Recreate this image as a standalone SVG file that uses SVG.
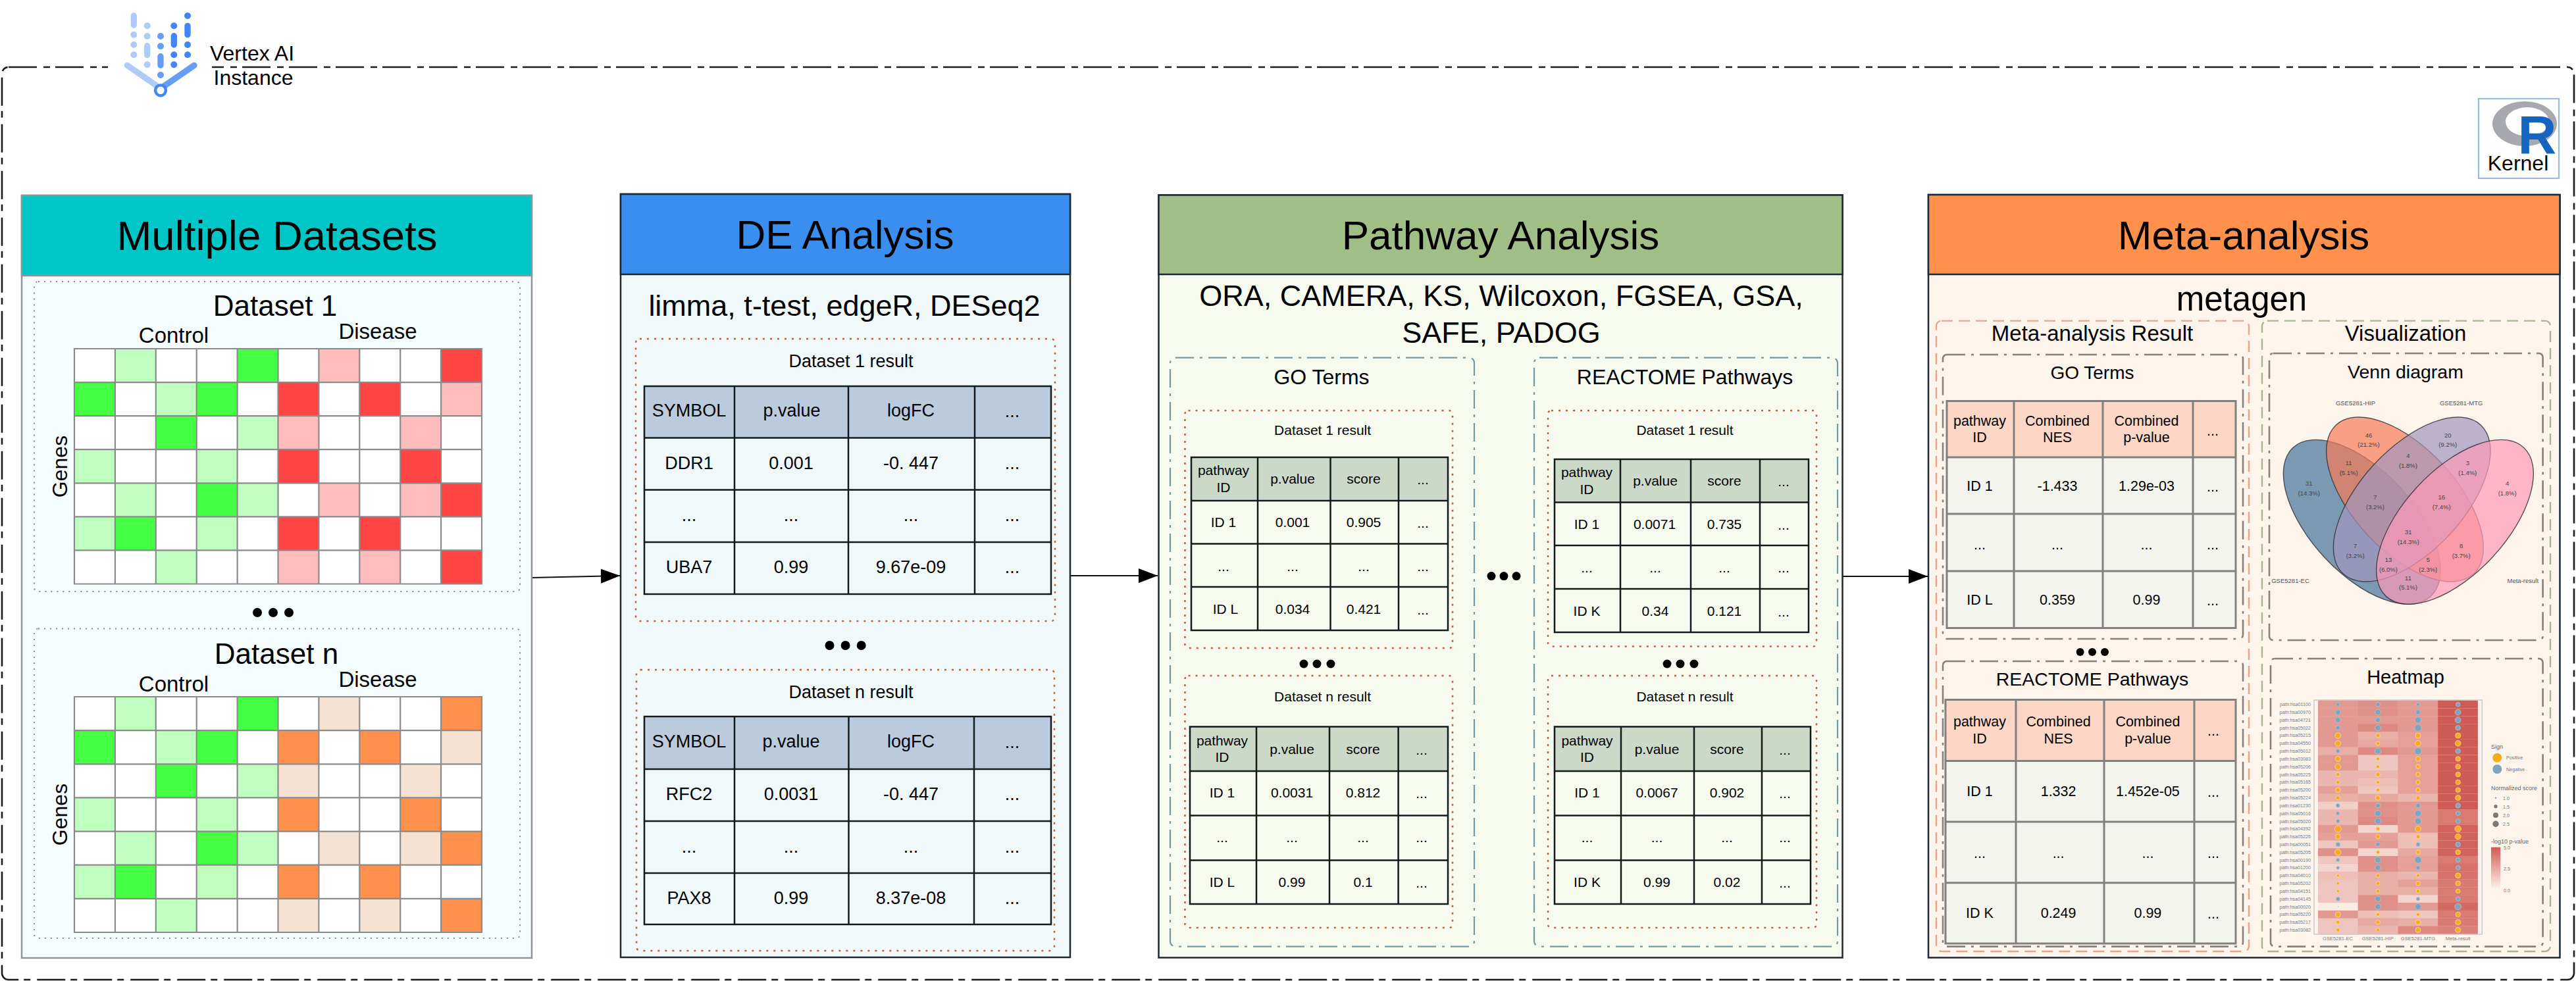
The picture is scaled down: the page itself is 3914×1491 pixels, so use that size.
<svg xmlns="http://www.w3.org/2000/svg" width="3914" height="1491" viewBox="0 0 3914 1491">
<style>
text{font-family:"Liberation Sans",Arial,Helvetica,sans-serif;text-anchor:middle;fill:#000}
.h{font-size:62px}.s45{font-size:45px}.s44{font-size:44px}.s33{font-size:33px}.s32{font-size:32px}.s27{font-size:27px}.s21{font-size:21px}.s215{font-size:21.5px}.s285{font-size:28.5px}
.bd1{stroke:#8d9698;stroke-width:2.5}.bd2{stroke:#1d2a33;stroke-width:2.5}
.dotg{fill:none;stroke:#8a8a8a;stroke-width:2;stroke-dasharray:2 7}
.doto{fill:none;stroke:#c4623a;stroke-width:2.5;stroke-dasharray:3 8}
.ddt{fill:none;stroke:#7199a8;stroke-width:2.2;stroke-dasharray:28 9 4 9}
.ddg{fill:none;stroke:#85807c;stroke-width:2.6;stroke-dasharray:28 9 4 9}
.dsa{fill:none;stroke:#e3a88c;stroke-width:2.4;stroke-dasharray:17 9}
.dgr{fill:none;stroke:#a8b78f;stroke-width:2.4;stroke-dasharray:17 9}
.gl{fill:none;stroke:#8b8b8b;stroke-width:2.2;vector-effect:non-scaling-stroke}
.tl{fill:none;stroke:#14191c;stroke-width:2.5}
.tg{fill:none;stroke:#808080;stroke-width:3}
.conn{fill:none;stroke:#111;stroke-width:2.2;marker-end:url(#ah)}
.n{fill:#7fa4c0;stroke:#c3c3c8;stroke-width:.8}.p{fill:#fba91e;stroke:#f9dfb0;stroke-width:.8}
.hc{fill:#cf5b55;width:60.8px;height:11.9px}
.vl{font-size:9.5px;fill:#555}.vn{font-size:9.5px;fill:#444}
.hl{font-size:7.2px;text-anchor:end;fill:#7b7b7b}.ax{font-size:7.6px;fill:#7b7b7b}
.lg{font-size:9px;text-anchor:start;fill:#666}.ls{font-size:7.2px;text-anchor:start;fill:#777}
.lt{fill:#aecbfa}.md{fill:#669df6}.dk{fill:#4285f4}
</style>
<defs>
<marker id="ah" markerUnits="userSpaceOnUse" markerWidth="29" markerHeight="24" refX="29" refY="12" orient="auto"><path d="M0 1L29 12L0 23z" fill="#000"/></marker>
<linearGradient id="cb" x1="0" y1="0" x2="0" y2="1"><stop offset="0" stop-color="#cf5b55"/><stop offset="1" stop-color="#fdf4ec"/></linearGradient>
<path id="gg" d="M4 0h1v1h-1zM0 1h1v1h-1zM3 1h1v1h-1zM2 2h1v1h-1zM3 4h1v1h-1zM1 5h1v1h-1z"/>
<path id="lg" d="M1 0h1v1h-1zM2 1h1v1h-1zM4 2h1v1h-1zM0 3h1v1h-1zM3 3h1v1h-1zM1 4h1v1h-1zM4 4h1v1h-1zM0 5h1v1h-1zM3 5h1v1h-1zM2 6h1v1h-1z"/>
<path id="st" d="M9 0h1v1h-1zM5 1h1v1h-1zM7 1h1v1h-1zM5 3h1v1h-1zM8 3h1v1h-1zM9 4h1v1h-1zM5 5h1v1h-1zM7 5h1v1h-1zM9 6h1v1h-1z"/>
<path id="wk" d="M6 0h1v1h-1zM9 1h1v1h-1zM5 2h1v1h-1zM8 2h1v1h-1zM6 4h1v1h-1zM8 4h1v1h-1zM5 6h1v1h-1zM7 6h1v1h-1z"/>
<path id="gr" class="gl" d="M0 0H10V7H0zM1 0V7M2 0V7M3 0V7M4 0V7M5 0V7M6 0V7M7 0V7M8 0V7M9 0V7M0 1H10M0 2H10M0 3H10M0 4H10M0 5H10M0 6H10"/>
</defs>
<rect width="3914" height="1491" fill="#fff"/>
<g id="instance">
<rect x="3" y="102" width="3908" height="1387" rx="10" fill="none" stroke="#1c1c1c" stroke-width="2.6" stroke-dasharray="43 10 10 8"/>
</g>
<g id="vertex-ai-logo">
<rect x="164" y="90" width="158" height="24" fill="#fff"/>
<g fill="none" stroke-linecap="round" stroke-width="9.3">
<path stroke="#aecbfa" d="M203.3 24V38M223.7 69.7V83.7M193.3 99.3L240 131.7"/>
<path stroke="#669df6" d="M244 85.7V99.3M295 99.3L248 131.7"/>
<path stroke="#4285f4" d="M264.3 54.7V68M285 39.3V52.7"/>
</g>
<g class="lt"><circle cx="203.3" cy="52.7" r="5"/><circle cx="203.3" cy="68" r="5"/><circle cx="203.3" cy="83.3" r="5"/><circle cx="223.7" cy="39.3" r="5"/><circle cx="223.7" cy="55" r="5"/><circle cx="223.7" cy="98.3" r="5"/></g>
<g class="md"><circle cx="244" cy="55" r="5"/><circle cx="244" cy="70.3" r="5"/><circle cx="244" cy="114" r="5"/></g>
<g class="dk"><circle cx="264.3" cy="39.3" r="5"/><circle cx="264.3" cy="83.3" r="5"/><circle cx="264.3" cy="98.3" r="5"/><circle cx="285" cy="24" r="5"/><circle cx="285" cy="68" r="5"/><circle cx="285" cy="83.3" r="5"/></g>
<circle cx="244" cy="137.3" r="8" fill="#fff" stroke="#4285f4" stroke-width="4.3"/>
<text x="383" y="91.7" class="s32">Vertex AI</text>
<text x="385" y="129" class="s32">Instance</text>
</g>
<g id="r-kernel">
<rect x="3766" y="150" width="122" height="121" fill="#fff" stroke="#9db8de" stroke-width="2.2"/>
<path fill="#a8a9b0" fill-rule="evenodd" d="M3787 188a49 34 0 1 0 98 0a49 34 0 1 0 -98 0zM3807 185a33 22 0 1 0 66 0a33 22 0 1 0 -66 0z"/>
<text x="3855" y="233" font-size="81" font-weight="700" style="fill:#1565c0">R</text>
<text x="3826" y="259" class="s32">Kernel</text>
</g>
<g id="connectors">
<path class="conn" d="M808 878L942 875"/>
<path class="conn" d="M1626 875H1759"/>
<path class="conn" d="M2800 876H2929"/>
</g>
<g id="multiple-datasets">
<rect x="33" y="297" width="775" height="1159" fill="#f6fdff" class="bd1"/>
<rect x="33" y="297" width="775" height="122" fill="#00c6c8" class="bd1"/>
<text x="421" y="380" font-size="63.5">Multiple Datasets</text>
<rect x="52" y="428" width="738" height="471" rx="6" class="dotg"/>
<text x="418" y="480" class="s44">Dataset 1</text>
<text x="264" y="521" class="s33">Control</text>
<text x="574" y="515" class="s33">Disease</text>
<text transform="translate(102,709) rotate(-90)" class="s32">Genes</text>
<g transform="translate(113,530) scale(61.9,51.07)">
<rect width="10" height="7" fill="#fff"/>
<use href="#gg" fill="#44ff44"/><use href="#lg" fill="#bfffc0"/><use href="#st" fill="#ff4444"/><use href="#wk" fill="#ffbcbc"/>
<use href="#gr"/>
</g>
<circle cx="391" cy="931" r="7"/><circle cx="415" cy="931" r="7"/><circle cx="439" cy="931" r="7"/>
<rect x="52" y="955.500" width="738" height="470.500" rx="6" class="dotg"/>
<text x="420" y="1009" class="s44">Dataset n</text>
<text x="264" y="1051" class="s33">Control</text>
<text x="574" y="1044" class="s33">Disease</text>
<text transform="translate(102,1238) rotate(-90)" class="s32">Genes</text>
<g transform="translate(113,1059) scale(61.9,51.14)">
<rect width="10" height="7" fill="#fff"/>
<use href="#gg" fill="#44ff44"/><use href="#lg" fill="#bfffc0"/><use href="#st" fill="#ff914d"/><use href="#wk" fill="#f6e2d3"/>
<use href="#gr"/>
</g>
</g>
<g id="de-analysis">
<rect x="943" y="295" width="683" height="1160" fill="#f1f8fa" class="bd2"/>
<rect x="943" y="295" width="683" height="122" fill="#3a8eef" class="bd2"/>
<text x="1284" y="378" class="h">DE Analysis</text>
<text x="1283" y="479.500" class="s45">limma, t-test, edgeR, DESeq2</text>
<rect x="966" y="515" width="637" height="429" rx="6" class="doto"/>
<text x="1293" y="558" class="s27">Dataset 1 result</text>
<rect x="979" y="587" width="618" height="78.500" fill="#b9cbdd"/>
<path class="tl" d="M979 587H1597V903H979zM1116 587V903M1289 587V903M1481 587V903M979 665.500H1597M979 744.500H1597M979 824H1597"/>
<g class="s27">
<text x="1047" y="633">SYMBOL</text><text x="1203" y="633">p.value</text><text x="1384" y="633">logFC</text><text x="1538" y="634">...</text>
<text x="1047" y="713">DDR1</text><text x="1202" y="713">0.001</text><text x="1384" y="713">-0. 447</text><text x="1538" y="713">...</text>
<text x="1047" y="792">...</text><text x="1202" y="792">...</text><text x="1384" y="792">...</text><text x="1538" y="792">...</text>
<text x="1047" y="871">UBA7</text><text x="1202" y="871">0.99</text><text x="1384" y="871">9.67e-09</text><text x="1538" y="871">...</text>
</g>
<circle cx="1260.500" cy="981" r="7"/><circle cx="1284.600" cy="981" r="7"/><circle cx="1308.700" cy="981" r="7"/>
<rect x="967" y="1018" width="635" height="427" rx="6" class="doto"/>
<text x="1293" y="1061" class="s27">Dataset n result</text>
<rect x="979" y="1089" width="618" height="80" fill="#b9cbdd"/>
<path class="tl" d="M979 1089H1597V1405H979zM1116 1089V1405M1289.500 1089V1405M1480 1089V1405M979 1169H1597M979 1248H1597M979 1327H1597"/>
<g class="s27">
<text x="1047" y="1136">SYMBOL</text><text x="1202" y="1136">p.value</text><text x="1384" y="1136">logFC</text><text x="1538" y="1137">...</text>
<text x="1047" y="1216">RFC2</text><text x="1202" y="1216">0.0031</text><text x="1384" y="1216">-0. 447</text><text x="1538" y="1216">...</text>
<text x="1047" y="1296">...</text><text x="1202" y="1296">...</text><text x="1384" y="1296">...</text><text x="1538" y="1296">...</text>
<text x="1047" y="1374">PAX8</text><text x="1202" y="1374">0.99</text><text x="1384" y="1374">8.37e-08</text><text x="1538" y="1374">...</text>
</g>
</g>
<g id="pathway-analysis">
<rect x="1760.500" y="296.500" width="1039" height="1159" fill="#f6faef" class="bd2"/>
<rect x="1760.500" y="296.500" width="1039" height="120.500" fill="#a0bf87" class="bd2"/>
<text x="2280" y="379" class="h">Pathway Analysis</text>
<text x="2281" y="465" class="s45">ORA, CAMERA, KS, Wilcoxon, FGSEA, GSA,</text>
<text x="2281" y="521" class="s45">SAFE, PADOG</text>
<rect x="1778" y="543.600" width="462" height="895" rx="8" class="ddt"/>
<rect x="2331" y="543.600" width="461" height="895" rx="8" class="ddt"/>
<text x="2008" y="584" class="s32">GO Terms</text>
<text x="2560" y="584" class="s32">REACTOME Pathways</text>
<circle cx="2266" cy="875.600" r="6.500"/><circle cx="2285" cy="875.600" r="6.500"/><circle cx="2304" cy="875.600" r="6.500"/>
<circle cx="1981" cy="1009" r="6.500"/><circle cx="2001" cy="1009" r="6.500"/><circle cx="2022" cy="1009" r="6.500"/>
<circle cx="2533" cy="1009" r="6.500"/><circle cx="2553" cy="1009" r="6.500"/><circle cx="2574" cy="1009" r="6.500"/>
<rect x="1800.500" y="624" width="406.500" height="361" rx="5" class="doto"/>
<text x="2009.600" y="661" class="s21">Dataset 1 result</text>
<rect x="1810" y="695" width="390" height="66" fill="#ccd9c9"/>
<path class="tl" d="M1810 695H2200V958H1810zM1911 695V958M2021.500 695V958M2125 695V958M1810 761H2200M1810 826.500H2200M1810 892H2200"/>
<g class="s21">
<text x="1859" y="722">pathway</text><text x="1859" y="747.500">ID</text><text x="1964" y="734.600">p.value</text><text x="2072" y="734.600">score</text><text x="2162" y="736">...</text>
<text x="1859" y="801">ID 1</text><text x="1964" y="801">0.001</text><text x="2072" y="801">0.905</text><text x="2162" y="802">...</text>
<text x="1859" y="868">...</text><text x="1964" y="868">...</text><text x="2072" y="868">...</text><text x="2162" y="868">...</text>
<text x="1862" y="933">ID L</text><text x="1964" y="933">0.034</text><text x="2072" y="933">0.421</text><text x="2162" y="934">...</text>
</g>
<rect x="2352" y="624" width="408" height="358.500" rx="5" class="doto"/>
<text x="2560" y="661" class="s21">Dataset 1 result</text>
<rect x="2362" y="698" width="386" height="65.500" fill="#ccd9c9"/>
<path class="tl" d="M2362 698H2748V961H2362zM2462 698V961M2569 698V961M2674 698V961M2362 763.500H2748M2362 829H2748M2362 895H2748"/>
<g class="s21">
<text x="2411" y="725">pathway</text><text x="2411" y="751">ID</text><text x="2515" y="738">p.value</text><text x="2620" y="738">score</text><text x="2710" y="739">...</text>
<text x="2411" y="803.500">ID 1</text><text x="2514" y="803.500">0.0071</text><text x="2620" y="803.500">0.735</text><text x="2710" y="805">...</text>
<text x="2411" y="870">...</text><text x="2515" y="870">...</text><text x="2620" y="870">...</text><text x="2710" y="870">...</text>
<text x="2411" y="936">ID K</text><text x="2515" y="936">0.34</text><text x="2620" y="936">0.121</text><text x="2710" y="937">...</text>
</g>
<rect x="1800.500" y="1027" width="406.500" height="383" rx="5" class="doto"/>
<text x="2009.600" y="1065.700" class="s21">Dataset n result</text>
<rect x="1808" y="1104.600" width="392" height="67.400" fill="#ccd9c9"/>
<path class="tl" d="M1808 1104.600H2200V1374H1808zM1909 1104.600V1374M2020 1104.600V1374M2124.600 1104.600V1374M1808 1172H2200M1808 1239.400H2200M1808 1307.500H2200"/>
<g class="s21">
<text x="1857" y="1133">pathway</text><text x="1857" y="1158">ID</text><text x="1963" y="1145.600">p.value</text><text x="2071" y="1145.600">score</text><text x="2160" y="1147">...</text>
<text x="1857" y="1212">ID 1</text><text x="1963" y="1212">0.0031</text><text x="2071" y="1212">0.812</text><text x="2160" y="1213">...</text>
<text x="1857" y="1280">...</text><text x="1963" y="1280">...</text><text x="2071" y="1280">...</text><text x="2160" y="1280">...</text>
<text x="1857" y="1348">ID L</text><text x="1963" y="1348">0.99</text><text x="2071" y="1348">0.1</text><text x="2160" y="1349">...</text>
</g>
<rect x="2352" y="1027" width="408" height="383" rx="5" class="doto"/>
<text x="2560" y="1065.700" class="s21">Dataset n result</text>
<rect x="2362" y="1104.600" width="389" height="67.400" fill="#ccd9c9"/>
<path class="tl" d="M2362 1104.600H2751V1374H2362zM2463 1104.600V1374M2574 1104.600V1374M2677 1104.600V1374M2362 1172H2751M2362 1239.400H2751M2362 1307.500H2751"/>
<g class="s21">
<text x="2411.500" y="1133">pathway</text><text x="2411.500" y="1158">ID</text><text x="2517.500" y="1145.600">p.value</text><text x="2624" y="1145.600">score</text><text x="2712" y="1147">...</text>
<text x="2411.500" y="1212">ID 1</text><text x="2517.500" y="1212">0.0067</text><text x="2624" y="1212">0.902</text><text x="2712" y="1213">...</text>
<text x="2411.500" y="1280">...</text><text x="2517.500" y="1280">...</text><text x="2624" y="1280">...</text><text x="2712" y="1280">...</text>
<text x="2411.500" y="1348">ID K</text><text x="2517.500" y="1348">0.99</text><text x="2624" y="1348">0.02</text><text x="2712" y="1349">...</text>
</g>
</g>
<g id="meta-analysis">
<rect x="2930" y="296" width="959.500" height="1159.500" fill="#fdf4ec" class="bd2"/>
<rect x="2930" y="296" width="959.500" height="121" fill="#ff914d" class="bd2"/>
<text x="3409" y="379" class="h">Meta-analysis</text>
<text x="3406" y="472" font-size="51">metagen</text>
<rect x="2942" y="487.600" width="475" height="958.400" rx="8" class="dsa"/>
<rect x="3437" y="487.600" width="438" height="958.400" rx="8" class="dgr"/>
<text x="3179" y="518" class="s33">Meta-analysis Result</text>
<text x="3655" y="518" class="s33">Visualization</text>
<rect x="2952" y="539" width="456" height="432" rx="6" class="ddg"/>
<text x="3179" y="576" font-size="28">GO Terms</text>
<rect x="2958" y="609.600" width="439" height="85.400" fill="#fdd7c6"/>
<rect x="2958" y="695" width="439" height="259.500" fill="#f4f4ee"/>
<path class="tg" d="M2958 609.600H3397V954.500H2958zM3060 609.600V954.500M3195 609.600V954.500M3332 609.600V954.500M2958 695H3397M2958 781H3397M2958 868H3397"/>
<g class="s215">
<text x="3008" y="647">pathway</text><text x="3008" y="672">ID</text><text x="3126" y="647">Combined</text><text x="3126" y="672">NES</text><text x="3261.500" y="647">Combined</text><text x="3261.500" y="672">p-value</text><text x="3362" y="662">...</text>
<text x="3008" y="746">ID 1</text><text x="3126" y="746">-1.433</text><text x="3261.500" y="746">1.29e-03</text><text x="3362" y="747">...</text>
<text x="3008" y="835">...</text><text x="3126" y="835">...</text><text x="3261.500" y="835">...</text><text x="3362" y="835">...</text>
<text x="3008" y="919">ID L</text><text x="3126" y="919">0.359</text><text x="3261.500" y="919">0.99</text><text x="3362" y="920">...</text>
</g>
<circle cx="3160.600" cy="991" r="6"/><circle cx="3179" cy="991" r="6"/><circle cx="3198" cy="991" r="6"/>
<rect x="2952" y="1005" width="456" height="433.600" rx="6" class="ddg"/>
<text x="3179" y="1042" class="s285">REACTOME Pathways</text>
<rect x="2956" y="1063.600" width="441" height="92.800" fill="#fdd7c6"/>
<rect x="2956" y="1156.400" width="441" height="277.600" fill="#f4f4ee"/>
<path class="tg" d="M2956 1063.600H3397V1434H2956zM3063 1063.600V1434M3197 1063.600V1434M3334 1063.600V1434M2956 1156.400H3397M2956 1249H3397M2956 1341.700H3397"/>
<g class="s215">
<text x="3008" y="1104">pathway</text><text x="3008" y="1130">ID</text><text x="3127.600" y="1104">Combined</text><text x="3127.600" y="1130">NES</text><text x="3263.400" y="1104">Combined</text><text x="3263.400" y="1130">p-value</text><text x="3363" y="1118">...</text>
<text x="3008" y="1210">ID 1</text><text x="3127.600" y="1210">1.332</text><text x="3263.400" y="1210">1.452e-05</text><text x="3363" y="1211">...</text>
<text x="3008" y="1304">...</text><text x="3127.600" y="1304">...</text><text x="3263.400" y="1304">...</text><text x="3363" y="1304">...</text>
<text x="3008" y="1395">ID K</text><text x="3127.600" y="1395">0.249</text><text x="3263.400" y="1395">0.99</text><text x="3363" y="1396">...</text>
</g>
<g id="venn">
<rect x="3448" y="537" width="415.600" height="436" rx="6" class="ddg"/>
<text x="3655" y="575.400" class="s285">Venn diagram</text>
<g stroke="#2e2e33" stroke-opacity=".8" stroke-width="1.4" fill-opacity=".7">
<ellipse cx="3588.700" cy="793.300" rx="154" ry="78.300" transform="rotate(47.25 3588.700 793.300)" fill="#45729b"/>
<ellipse cx="3654" cy="759" rx="154" ry="78.300" transform="rotate(47.25 3654 759)" fill="#f67a59"/>
<ellipse cx="3664.700" cy="759" rx="154" ry="78.300" transform="rotate(-47.25 3664.700 759)" fill="#a195be"/>
<ellipse cx="3730" cy="793.300" rx="154" ry="78.300" transform="rotate(-47.25 3730 793.300)" fill="#fe9ab8"/>
</g>
<g><text x="3579" y="615.700" class="vl">GSE5281-HIP</text><text x="3739.700" y="615.700" class="vl">GSE5281-MTG</text><text x="3480" y="886" class="vl">GSE5281-EC</text><text x="3833.300" y="886" class="vl">Meta-result</text></g>
<g>
<text class="vn" x="3508.300" y="738.300">31</text><text class="vn" x="3508.300" y="753">(14.3%)</text>
<text class="vn" x="3599" y="665">46</text><text class="vn" x="3599" y="679.300">(21.2%)</text>
<text class="vn" x="3719.300" y="665">20</text><text class="vn" x="3719.300" y="679.300">(9.2%)</text>
<text class="vn" x="3809.700" y="738.300">4</text><text class="vn" x="3809.700" y="753">(1.8%)</text>
<text class="vn" x="3568.700" y="707">11</text><text class="vn" x="3568.700" y="721.700">(5.1%)</text>
<text class="vn" x="3659" y="696.300">4</text><text class="vn" x="3659" y="711">(1.8%)</text>
<text class="vn" x="3749.300" y="707">3</text><text class="vn" x="3749.300" y="721.700">(1.4%)</text>
<text class="vn" x="3609" y="759.300">7</text><text class="vn" x="3609" y="774">(3.2%)</text>
<text class="vn" x="3709.700" y="759.300">16</text><text class="vn" x="3709.700" y="774">(7.4%)</text>
<text class="vn" x="3659.300" y="812.300">31</text><text class="vn" x="3659.300" y="826.700">(14.3%)</text>
<text class="vn" x="3578.700" y="833.300">7</text><text class="vn" x="3578.700" y="847.700">(3.2%)</text>
<text class="vn" x="3739.700" y="833.300">8</text><text class="vn" x="3739.700" y="847.700">(3.7%)</text>
<text class="vn" x="3629" y="854.300">13</text><text class="vn" x="3629" y="868.700">(6.0%)</text>
<text class="vn" x="3689.300" y="854.300">5</text><text class="vn" x="3689.300" y="868.700">(2.3%)</text>
<text class="vn" x="3659" y="882">11</text><text class="vn" x="3659" y="896.300">(5.1%)</text>
</g>
</g>
<g id="heatmap">
<rect x="3450" y="1001" width="413.600" height="437.600" rx="6" class="ddg"/>
<text x="3655" y="1038.600" font-size="29">Heatmap</text>
<rect x="3516" y="1064" width="255.300" height="356" fill="#fdf4ec" stroke="#c9c5c2" stroke-width="1.4"/>
<g transform="translate(3522,1064.700)">
<g><text class="hl" x="-11" y="8.500">path:hsa01100</text><rect class="hc" fill-opacity=".6"/><rect class="hc" x="60.700" fill-opacity=".65"/><rect class="hc" x="121.400" fill-opacity=".6"/><rect class="hc" x="182.100" fill-opacity="1"/><circle class="n" cx="30.300" cy="6" r="2.700"/><circle class="n" cx="91" cy="6" r="3.300"/><circle class="n" cx="152" cy="6" r="2.700"/><circle class="n" cx="212.700" cy="6" r="3.300"/></g>
<g transform="translate(0,11.820)"><text class="hl" x="-11" y="8.500">path:hsa00970</text><rect class="hc" fill-opacity=".6"/><rect class="hc" x="60.700" fill-opacity=".65"/><rect class="hc" x="121.400" fill-opacity=".6"/><rect class="hc" x="182.100" fill-opacity="1"/><circle class="n" cx="30.300" cy="6" r="4"/><circle class="n" cx="91" cy="6" r="4.300"/><circle class="n" cx="152" cy="6" r="3.700"/><circle class="n" cx="212.700" cy="6" r="4.300"/></g>
<g transform="translate(0,23.640)"><text class="hl" x="-11" y="8.500">path:hsa04721</text><rect class="hc" fill-opacity=".6"/><rect class="hc" x="60.700" fill-opacity=".6"/><rect class="hc" x="121.400" fill-opacity=".6"/><rect class="hc" x="182.100" fill-opacity="1"/><circle class="n" cx="30.300" cy="6" r="4"/><circle class="n" cx="91" cy="6" r="3.700"/><circle class="n" cx="152" cy="6" r="4.700"/><circle class="n" cx="212.700" cy="6" r="4.300"/></g>
<g transform="translate(0,35.460)"><text class="hl" x="-11" y="8.500">path:hsa05022</text><rect class="hc" fill-opacity=".6"/><rect class="hc" x="60.700" fill-opacity=".7"/><rect class="hc" x="121.400" fill-opacity=".6"/><rect class="hc" x="182.100" fill-opacity="1"/><circle class="n" cx="30.300" cy="6" r="3.300"/><circle class="n" cx="91" cy="6" r="4.300"/><circle class="n" cx="152" cy="6" r="5.300"/><circle class="n" cx="212.700" cy="6" r="3.700"/></g>
<g transform="translate(0,47.280)"><text class="hl" x="-11" y="8.500">path:hsa05215</text><rect class="hc" fill-opacity=".6"/><rect class="hc" x="60.700" fill-opacity=".45"/><rect class="hc" x="121.400" fill-opacity=".55"/><rect class="hc" x="182.100" fill-opacity="1"/><circle class="p" cx="30.300" cy="6" r="4.300"/><circle class="p" cx="91" cy="6" r="3.300"/><circle class="p" cx="152" cy="6" r="4"/><circle class="p" cx="212.700" cy="6" r="4"/></g>
<g transform="translate(0,59.100)"><text class="hl" x="-11" y="8.500">path:hsa04550</text><rect class="hc" fill-opacity=".6"/><rect class="hc" x="60.700" fill-opacity=".5"/><rect class="hc" x="121.400" fill-opacity=".55"/><rect class="hc" x="182.100" fill-opacity="1"/><circle class="p" cx="30.300" cy="6" r="4.300"/><circle class="p" cx="91" cy="6" r="3"/><circle class="p" cx="152" cy="6" r="4.300"/><circle class="p" cx="212.700" cy="6" r="4.300"/></g>
<g transform="translate(0,70.920)"><text class="hl" x="-11" y="8.500">path:hsa05012</text><rect class="hc" fill-opacity=".45"/><rect class="hc" x="60.700" fill-opacity=".7"/><rect class="hc" x="121.400" fill-opacity=".6"/><rect class="hc" x="182.100" fill-opacity="1"/><circle class="n" cx="30.300" cy="6" r="3"/><circle class="n" cx="91" cy="6" r="4.700"/><circle class="n" cx="152" cy="6" r="5.300"/><circle class="n" cx="212.700" cy="6" r="3.700"/></g>
<g transform="translate(0,82.740)"><text class="hl" x="-11" y="8.500">path:hsa03083</text><rect class="hc" fill-opacity=".6"/><rect class="hc" x="60.700" fill-opacity=".3"/><rect class="hc" x="121.400" fill-opacity=".55"/><rect class="hc" x="182.100" fill-opacity="1"/><circle class="p" cx="30.300" cy="6" r="4"/><circle class="p" cx="91" cy="6" r="2.700"/><circle class="p" cx="152" cy="6" r="3.700"/><circle class="p" cx="212.700" cy="6" r="3.700"/></g>
<g transform="translate(0,94.560)"><text class="hl" x="-11" y="8.500">path:hsa05206</text><rect class="hc" fill-opacity=".6"/><rect class="hc" x="60.700" fill-opacity=".3"/><rect class="hc" x="121.400" fill-opacity=".55"/><rect class="hc" x="182.100" fill-opacity="1"/><circle class="p" cx="30.300" cy="6" r="4.300"/><circle class="p" cx="91" cy="6" r="2.700"/><circle class="p" cx="152" cy="6" r="3.300"/><circle class="p" cx="212.700" cy="6" r="3.700"/></g>
<g transform="translate(0,106.380)"><text class="hl" x="-11" y="8.500">path:hsa05225</text><rect class="hc" fill-opacity=".4"/><rect class="hc" x="60.700" fill-opacity=".4"/><rect class="hc" x="121.400" fill-opacity=".55"/><rect class="hc" x="182.100" fill-opacity="1"/><circle class="p" cx="30.300" cy="6" r="3"/><circle class="p" cx="91" cy="6" r="3.300"/><circle class="p" cx="152" cy="6" r="3.300"/><circle class="p" cx="212.700" cy="6" r="3.700"/></g>
<g transform="translate(0,118.200)"><text class="hl" x="-11" y="8.500">path:hsa05165</text><rect class="hc" fill-opacity=".4"/><rect class="hc" x="60.700" fill-opacity=".35"/><rect class="hc" x="121.400" fill-opacity=".55"/><rect class="hc" x="182.100" fill-opacity="1"/><circle class="p" cx="30.300" cy="6" r="3"/><circle class="p" cx="91" cy="6" r="2.700"/><circle class="p" cx="152" cy="6" r="3.300"/><circle class="p" cx="212.700" cy="6" r="3.700"/></g>
<g transform="translate(0,130.020)"><text class="hl" x="-11" y="8.500">path:hsa05200</text><rect class="hc" fill-opacity=".55"/><rect class="hc" x="60.700" fill-opacity=".3"/><rect class="hc" x="121.400" fill-opacity=".55"/><rect class="hc" x="182.100" fill-opacity="1"/><circle class="p" cx="30.300" cy="6" r="3.700"/><circle class="p" cx="91" cy="6" r="2.700"/><circle class="p" cx="152" cy="6" r="3.300"/><circle class="p" cx="212.700" cy="6" r="3.700"/></g>
<g transform="translate(0,141.840)"><text class="hl" x="-11" y="8.500">path:hsa05224</text><rect class="hc" fill-opacity=".45"/><rect class="hc" x="60.700" fill-opacity=".5"/><rect class="hc" x="121.400" fill-opacity=".4"/><rect class="hc" x="182.100" fill-opacity="1"/><circle class="p" cx="30.300" cy="6" r="3.300"/><circle class="p" cx="91" cy="6" r="3.700"/><circle class="p" cx="152" cy="6" r="3"/><circle class="p" cx="212.700" cy="6" r="4"/></g>
<g transform="translate(0,153.660)"><text class="hl" x="-11" y="8.500">path:hsa01230</text><rect class="hc" fill-opacity=".25"/><rect class="hc" x="60.700" fill-opacity=".65"/><rect class="hc" x="121.400" fill-opacity=".6"/><rect class="hc" x="182.100" fill-opacity="1"/><circle class="n" cx="30.300" cy="6" r="3"/><circle class="n" cx="91" cy="6" r="3.700"/><circle class="n" cx="152" cy="6" r="3.700"/><circle class="n" cx="212.700" cy="6" r="3.700"/></g>
<g transform="translate(0,165.480)"><text class="hl" x="-11" y="8.500">path:hsa05016</text><rect class="hc" fill-opacity=".4"/><rect class="hc" x="60.700" fill-opacity=".65"/><rect class="hc" x="121.400" fill-opacity=".6"/><rect class="hc" x="182.100" fill-opacity=".8"/><circle class="n" cx="30.300" cy="6" r="2.700"/><circle class="n" cx="91" cy="6" r="4.700"/><circle class="n" cx="152" cy="6" r="5"/><circle class="n" cx="212.700" cy="6" r="3.300"/></g>
<g transform="translate(0,177.300)"><text class="hl" x="-11" y="8.500">path:hsa05020</text><rect class="hc" fill-opacity=".4"/><rect class="hc" x="60.700" fill-opacity=".7"/><rect class="hc" x="121.400" fill-opacity=".6"/><rect class="hc" x="182.100" fill-opacity=".8"/><circle class="n" cx="30.300" cy="6" r="2.700"/><circle class="n" cx="91" cy="6" r="4.700"/><circle class="n" cx="152" cy="6" r="5"/><circle class="n" cx="212.700" cy="6" r="3.300"/></g>
<g transform="translate(0,189.120)"><text class="hl" x="-11" y="8.500">path:hsa04392</text><rect class="hc" fill-opacity=".6"/><rect class="hc" x="60.700" fill-opacity=".2"/><rect class="hc" x="121.400" fill-opacity=".6"/><rect class="hc" x="182.100" fill-opacity=".95"/><circle class="p" cx="30.300" cy="6" r="5"/><circle class="p" cx="91" cy="6" r="3"/><circle class="p" cx="152" cy="6" r="4.300"/><circle class="p" cx="212.700" cy="6" r="4.700"/></g>
<g transform="translate(0,200.940)"><text class="hl" x="-11" y="8.500">path:hsa05226</text><rect class="hc" fill-opacity=".55"/><rect class="hc" x="60.700" fill-opacity=".55"/><rect class="hc" x="121.400" fill-opacity=".35"/><rect class="hc" x="182.100" fill-opacity=".95"/><circle class="p" cx="30.300" cy="6" r="4"/><circle class="p" cx="91" cy="6" r="3.300"/><circle class="p" cx="152" cy="6" r="3"/><circle class="p" cx="212.700" cy="6" r="4.300"/></g>
<g transform="translate(0,212.760)"><text class="hl" x="-11" y="8.500">path:hsa00051</text><rect class="hc" fill-opacity=".3"/><rect class="hc" x="60.700" fill-opacity=".6"/><rect class="hc" x="121.400" fill-opacity=".35"/><rect class="hc" x="182.100" fill-opacity=".95"/><circle class="n" cx="30.300" cy="6" r="3.300"/><circle class="n" cx="91" cy="6" r="3.300"/><circle class="n" cx="152" cy="6" r="3"/><circle class="n" cx="212.700" cy="6" r="3.700"/></g>
<g transform="translate(0,224.580)"><text class="hl" x="-11" y="8.500">path:hsa05205</text><rect class="hc" fill-opacity=".65"/><rect class="hc" x="60.700" fill-opacity=".2"/><rect class="hc" x="121.400" fill-opacity=".5"/><rect class="hc" x="182.100" fill-opacity=".95"/><circle class="p" cx="30.300" cy="6" r="4.700"/><circle class="p" cx="91" cy="6" r="2.700"/><circle class="p" cx="152" cy="6" r="3.300"/><circle class="p" cx="212.700" cy="6" r="3.700"/></g>
<g transform="translate(0,236.400)"><text class="hl" x="-11" y="8.500">path:hsa00190</text><rect class="hc" fill-opacity=".3"/><rect class="hc" x="60.700" fill-opacity=".65"/><rect class="hc" x="121.400" fill-opacity=".55"/><rect class="hc" x="182.100" fill-opacity=".8"/><circle class="n" cx="30.300" cy="6" r="2.700"/><circle class="n" cx="91" cy="6" r="4.700"/><circle class="n" cx="152" cy="6" r="5.300"/><circle class="n" cx="212.700" cy="6" r="3.300"/></g>
<g transform="translate(0,248.220)"><text class="hl" x="-11" y="8.500">path:hsa01200</text><rect class="hc" fill-opacity=".2"/><rect class="hc" x="60.700" fill-opacity=".65"/><rect class="hc" x="121.400" fill-opacity=".55"/><rect class="hc" x="182.100" fill-opacity=".85"/><circle class="n" cx="30.300" cy="6" r="2.300"/><circle class="n" cx="91" cy="6" r="4.300"/><circle class="n" cx="152" cy="6" r="3.300"/><circle class="n" cx="212.700" cy="6" r="3.300"/></g>
<g transform="translate(0,260.040)"><text class="hl" x="-11" y="8.500">path:hsa04010</text><rect class="hc" fill-opacity=".35"/><rect class="hc" x="60.700" fill-opacity=".45"/><rect class="hc" x="121.400" fill-opacity=".4"/><rect class="hc" x="182.100" fill-opacity=".85"/><circle class="p" cx="30.300" cy="6" r="2.300"/><circle class="p" cx="91" cy="6" r="3"/><circle class="p" cx="152" cy="6" r="2.700"/><circle class="p" cx="212.700" cy="6" r="4"/></g>
<g transform="translate(0,271.860)"><text class="hl" x="-11" y="8.500">path:hsa05202</text><rect class="hc" fill-opacity=".3"/><rect class="hc" x="60.700" fill-opacity=".45"/><rect class="hc" x="121.400" fill-opacity=".55"/><rect class="hc" x="182.100" fill-opacity=".8"/><circle class="p" cx="30.300" cy="6" r="2.300"/><circle class="p" cx="91" cy="6" r="3"/><circle class="p" cx="152" cy="6" r="3.300"/><circle class="p" cx="212.700" cy="6" r="3.700"/></g>
<g transform="translate(0,283.680)"><text class="hl" x="-11" y="8.500">path:hsa04151</text><rect class="hc" fill-opacity=".3"/><rect class="hc" x="60.700" fill-opacity=".45"/><rect class="hc" x="121.400" fill-opacity=".45"/><rect class="hc" x="182.100" fill-opacity=".8"/><circle class="p" cx="30.300" cy="6" r="2.300"/><circle class="p" cx="91" cy="6" r="3"/><circle class="p" cx="152" cy="6" r="3"/><circle class="p" cx="212.700" cy="6" r="3.300"/></g>
<g transform="translate(0,295.500)"><text class="hl" x="-11" y="8.500">path:hsa04145</text><rect class="hc" fill-opacity=".3"/><rect class="hc" x="60.700" fill-opacity=".65"/><rect class="hc" x="121.400" fill-opacity=".2"/><rect class="hc" x="182.100" fill-opacity=".8"/><circle class="n" cx="30.300" cy="6" r="3"/><circle class="n" cx="91" cy="6" r="4.300"/><circle class="n" cx="152" cy="6" r="2.700"/><circle class="n" cx="212.700" cy="6" r="3.300"/></g>
<g transform="translate(0,307.320)"><text class="hl" x="-11" y="8.500">path:hsa00020</text><rect class="hc" fill-opacity=".05"/><rect class="hc" x="60.700" fill-opacity=".65"/><rect class="hc" x="121.400" fill-opacity=".6"/><rect class="hc" x="182.100" fill-opacity=".9"/><circle class="n" cx="30.300" cy="6" r=".4"/><circle class="n" cx="91" cy="6" r="4.300"/><circle class="n" cx="152" cy="6" r="4.700"/><circle class="n" cx="212.700" cy="6" r="4.700"/></g>
<g transform="translate(0,319.140)"><text class="hl" x="-11" y="8.500">path:hsa05220</text><rect class="hc" fill-opacity=".6"/><rect class="hc" x="60.700" fill-opacity=".35"/><rect class="hc" x="121.400" fill-opacity=".3"/><rect class="hc" x="182.100" fill-opacity=".8"/><circle class="p" cx="30.300" cy="6" r="4"/><circle class="p" cx="91" cy="6" r="2.700"/><circle class="p" cx="152" cy="6" r="2.700"/><circle class="p" cx="212.700" cy="6" r="3.700"/></g>
<g transform="translate(0,330.960)"><text class="hl" x="-11" y="8.500">path:hsa05217</text><rect class="hc" fill-opacity=".3"/><rect class="hc" x="60.700" fill-opacity=".5"/><rect class="hc" x="121.400" fill-opacity=".45"/><rect class="hc" x="182.100" fill-opacity=".8"/><circle class="p" cx="30.300" cy="6" r="2.700"/><circle class="p" cx="91" cy="6" r="3.300"/><circle class="p" cx="152" cy="6" r="3.700"/><circle class="p" cx="212.700" cy="6" r="4"/></g>
<g transform="translate(0,342.780)"><text class="hl" x="-11" y="8.500">path:hsa03082</text><rect class="hc" fill-opacity=".3"/><rect class="hc" x="60.700" fill-opacity=".4"/><rect class="hc" x="121.400" fill-opacity=".7"/><rect class="hc" x="182.100" fill-opacity=".75"/><circle class="p" cx="30.300" cy="6" r="2.700"/><circle class="p" cx="91" cy="6" r="2.700"/><circle class="p" cx="152" cy="6" r="4"/><circle class="p" cx="212.700" cy="6" r="4"/></g>
</g>
<text class="ax" x="3552" y="1429">GSE5281-EC</text><text class="ax" x="3612.700" y="1429">GSE5281-HIP</text><text class="ax" x="3674" y="1429">GSE5281-MTG</text><text class="ax" x="3734.700" y="1429">Meta-result</text>
<text class="lg" x="3785" y="1138">Sign</text>
<circle cx="3794.300" cy="1151.700" r="7" fill="#fba91e"/><circle cx="3794.300" cy="1169" r="7" fill="#7fa4c0"/>
<text class="ls" x="3808" y="1154">Positive</text><text class="ls" x="3808" y="1171.700">Negative</text>
<text class="lg" x="3785" y="1201">Normalized score</text>
<g fill="#7a7a7a"><circle cx="3792" cy="1212.700" r="1"/><circle cx="3792" cy="1225.700" r="2.700"/><circle cx="3792" cy="1239" r="4"/><circle cx="3792" cy="1252.300" r="4.700"/></g>
<text class="ls" x="3803" y="1215.500">1.0</text><text class="ls" x="3803" y="1228.500">1.5</text><text class="ls" x="3803" y="1241.800">2.0</text><text class="ls" x="3803" y="1255">2.5</text>
<text class="lg" x="3785" y="1282">-log10 p-value</text>
<rect x="3785" y="1287.700" width="14.300" height="64" fill="url(#cb)"/>
<text class="ls" x="3804" y="1290.500">5.0</text><text class="ls" x="3804" y="1323">2.5</text><text class="ls" x="3804" y="1356">0.0</text>
</g>
</g>
</svg>
